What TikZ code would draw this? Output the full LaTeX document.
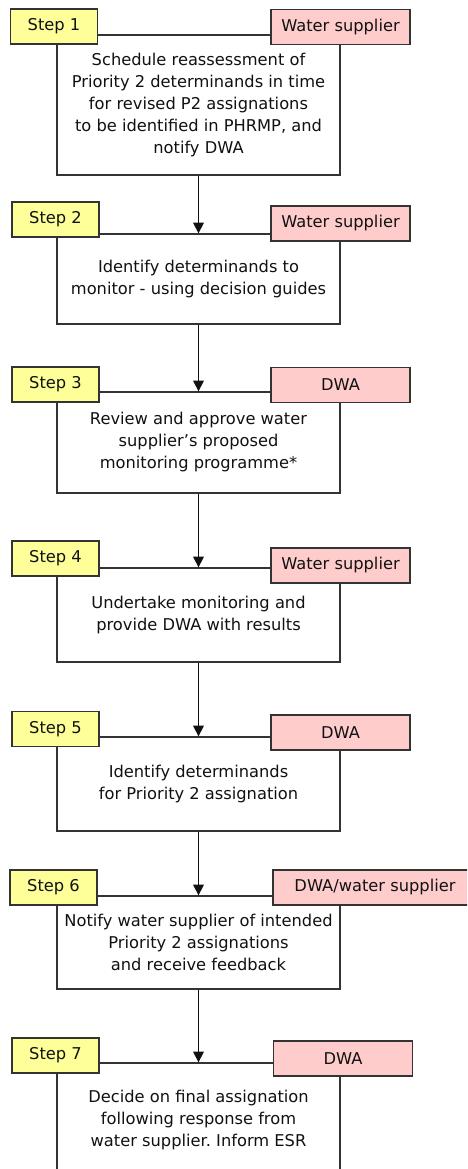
\documentclass[tikz,border=0pt]{standalone}
\usepackage{fontspec}
\setmainfont{DejaVu Sans}
\usetikzlibrary{arrows.meta}
\definecolor{stepfill}{HTML}{FFFF99}
\definecolor{rolefill}{HTML}{FFCCCC}
\definecolor{edge}{HTML}{333333}
\definecolor{ink}{HTML}{111111}
\begin{document}
\frenchspacing
\begin{tikzpicture}[x=0.75pt,y=-0.75pt,
  every node/.style={text=ink,font=\fontsize{12.2}{16.5}\selectfont},
  mainbox/.style={draw=edge,line width=1pt,fill=white,align=center,
    minimum width=212.25pt,inner sep=0pt},
  stepbox/.style={draw=edge,line width=1pt,fill=stepfill,
    minimum width=65.25pt,minimum height=26.25pt,inner sep=0pt},
  rolebox/.style={draw=edge,line width=1pt,fill=rolefill,
    minimum width=104.25pt,minimum height=26.25pt,inner sep=0pt},
  flow/.style={draw=ink,line width=1pt,-{Triangle[length=8pt,width=8pt]}}]
\useasboundingbox (0,0) rectangle (467,1169);
\fill[white] (0,0) rectangle (467,1169);
\clip (0,0) rectangle (467,1169);

% main process boxes
\node[mainbox,minimum height=105pt]  (m1) at (198.5,105)   {Schedule reassessment of\\Priority 2 determinands in time\\for revised P2 assignations\\to be identified in PHRMP, and\\notify DWA};
\node[mainbox,minimum height=67.5pt] (m2) at (198.5,279)   {Identify determinands to\\monitor - using decision guides};
\node[mainbox,minimum height=75.75pt](m3) at (198.5,442.5) {Review and approve water\\supplier’s proposed\\monitoring programme*};
\node[mainbox,minimum height=70.5pt] (m4) at (198.5,615)   {Undertake monitoring and\\provide DWA with results};
\node[mainbox,minimum height=70.5pt] (m5) at (198.5,784)   {Identify determinands\\for Priority 2 assignation};
\node[mainbox,minimum height=69.75pt](m6) at (198.5,942.5) {Notify water supplier of intended\\Priority 2 assignations\\and receive feedback};
\node[mainbox,minimum height=84.75pt](m7) at (198.5,1119.5){Decide on final assignation\\following response from\\water supplier. Inform ESR};

% flow between steps
\draw[flow] (m1.south) -- (m2.north);
\draw[flow] (m2.south) -- (m3.north);
\draw[flow] (m3.south) -- (m4.north);
\draw[flow] (m4.south) -- (m5.north);
\draw[flow] (m5.south) -- (m6.north);
\draw[flow] (m6.south) -- (m7.north);

% step labels
\node[stepbox] (s1) at (54,26.5)    {Step 1};
\node[stepbox] (s2) at (55.5,219.5) {Step 2};
\node[stepbox] (s3) at (55.5,384.5) {Step 3};
\node[stepbox] (s4) at (55.5,558.5) {Step 4};
\node[stepbox] (s5) at (55.5,729)   {Step 5};
\node[stepbox] (s6) at (53.5,887.5) {Step 6};
\node[stepbox] (s7) at (55.5,1055.5){Step 7};

% responsible parties
\node[rolebox] (r1) at (340.5,27)    {Water supplier};
\node[rolebox] (r2) at (340.5,223.5) {Water supplier};
\node[rolebox] (r3) at (340.5,385)   {DWA};
\node[rolebox] (r4) at (340.5,565.5) {Water supplier};
\node[rolebox] (r5) at (340.5,732.5) {DWA};
\node[rolebox,minimum width=153pt] (r6) at (375,887.5) {DWA/water supplier};
\node[rolebox] (r7) at (343,1058.5)  {DWA};
\end{tikzpicture}
\end{document}
